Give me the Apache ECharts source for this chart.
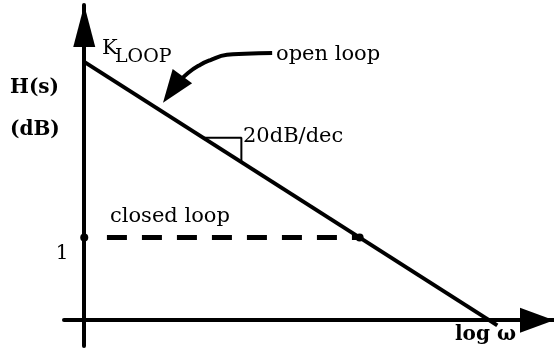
<!DOCTYPE html>
<html>
<head>
<meta charset="utf-8">
<script src="https://cdn.jsdelivr.net/npm/echarts@6/dist/echarts.min.js"></script>
<style>
  html, body { margin: 0; padding: 0; background: #fff; }
  #chart { width: 554px; height: 356px; }
</style>
</head>
<body>
<div id="chart"></div>
<script>
// log(w) in decades, H(s) in dB
const openLoopX = [0, 5.1]
const openLoopDb = [100, -2]

// closed loop: end dots, dashes start a little right of the axis
const closedLoopX = [0, 3.4]
const closedLoopDb = [32, 32]
const closedDashX = [0.28, 3.4]

// 20dB/dec slope marker
const slopeX = [1.47, 1.94, 1.94]
const slopeDb = [70.6, 70.6, 61.2]

// curved pointer from "open loop" label to the line
const pointerX = [2.32, 1.985, 1.762, 1.552, 1.429, 1.281, 1.18]
const pointerDb = [103.4, 103.1, 102.7, 100.6, 98.8, 95.7, 92.6]
const pointerHead = [1.092, 89.3]

const pairs = (xs, ys) => xs.map((x, i) => [x, ys[i]])

const serif = '"DejaVu Serif", serif'
const txt = (text, x, y, size, bold, align) => ({
  type: 'text',
  x: x,
  y: y,
  style: {
    text: text,
    font: (bold ? 'bold ' : '') + size + 'px ' + serif,
    fill: '#000',
    align: align || 'left',
    verticalAlign: 'middle'
  }
})

let chart = echarts.init(document.getElementById('chart'))
chart.setOption({
  animation: false,
  backgroundColor: '#fff',
  grid: { left: 64, right: 0, top: 5, bottom: 10 },
  xAxis: {
    type: 'value',
    min: -0.25,
    max: 5.8,
    splitLine: { show: false },
    axisTick: { show: false },
    axisLabel: { show: false },
    axisLine: {
      onZero: true,
      symbol: ['none', 'triangle'],
      symbolSize: [25, 34],
      symbolOffset: [0, -17],
      lineStyle: { color: '#000', width: 4 }
    }
  },
  yAxis: {
    type: 'value',
    min: -10,
    max: 122,
    splitLine: { show: false },
    axisTick: { show: false },
    axisLabel: { show: false },
    axisLine: {
      onZero: true,
      symbol: ['none', 'triangle'],
      symbolSize: [22, 42],
      symbolOffset: [0, -21],
      lineStyle: { color: '#000', width: 4 }
    }
  },
  series: [
    {
      type: 'line',
      data: pairs(openLoopX, openLoopDb),
      showSymbol: false,
      lineStyle: { color: '#000', width: 4 }
    },
    {
      type: 'line',
      data: pairs(closedDashX, closedLoopDb),
      showSymbol: false,
      lineStyle: { color: '#000', width: 5, type: [20, 15] }
    },
    {
      type: 'scatter',
      data: pairs(closedLoopX, closedLoopDb),
      symbol: 'circle',
      symbolSize: 8,
      itemStyle: { color: '#000', opacity: 1 }
    },
    {
      type: 'line',
      data: pairs(slopeX, slopeDb),
      showSymbol: false,
      lineStyle: { color: '#000', width: 2 }
    },
    {
      type: 'line',
      data: pairs(pointerX, pointerDb),
      smooth: true,
      showSymbol: false,
      lineStyle: { color: '#000', width: 4 }
    },
    {
      type: 'scatter',
      data: [pointerHead],
      symbol: 'triangle',
      symbolSize: [24, 33],
      symbolRotate: 144,
      itemStyle: { color: '#000', opacity: 1 }
    }
  ],
  graphic: [
    txt('H(s)', 10, 88, 20, true),
    txt('(dB)', 10, 130, 20, true),
    txt('K', 102, 49, 21, false),
    txt('LOOP', 115, 57, 19, false),
    txt('open loop', 276, 55, 21, false),
    txt('20dB/dec', 243, 137, 21, false),
    txt('closed loop', 110, 217, 21, false),
    txt('1', 62, 254, 20, false, 'center'),
    txt('log ω', 455, 335, 20, true)
  ]
})
window.addEventListener('resize', () => {
  chart.resize()
})
</script>
</body>
</html>
